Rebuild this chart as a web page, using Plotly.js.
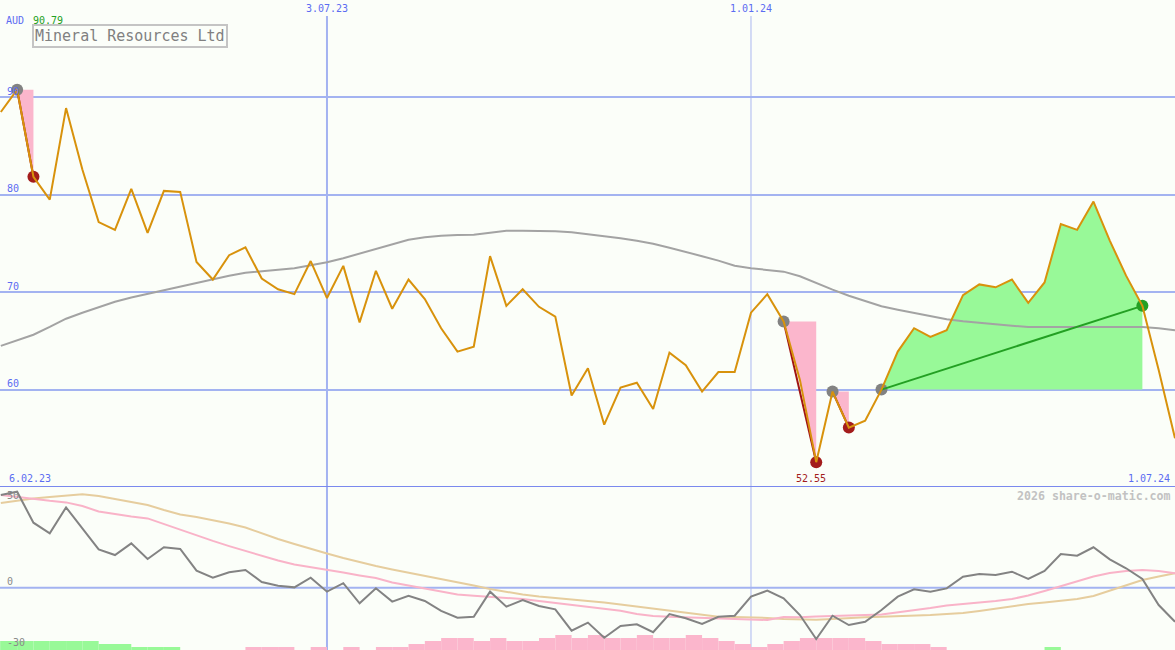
<!DOCTYPE html>
<html>
<head>
<meta charset="utf-8">
<script src="https://cdn.plot.ly/plotly-3.0.1.min.js"></script>
<style>
html,body{margin:0;padding:0;background:#fbfef9;}
#chart{width:1175px;height:650px;}
</style>
</head>
<body>
<div id="chart"></div>
<script>
// ---------- data ----------
const weeks = [
'2023-02-06','2023-02-13','2023-02-20','2023-02-27','2023-03-06','2023-03-13','2023-03-20','2023-03-27',
'2023-04-03','2023-04-10','2023-04-17','2023-04-24','2023-05-01','2023-05-08','2023-05-15','2023-05-22',
'2023-05-29','2023-06-05','2023-06-12','2023-06-19','2023-06-26','2023-07-03','2023-07-10','2023-07-17',
'2023-07-24','2023-07-31','2023-08-07','2023-08-14','2023-08-21','2023-08-28','2023-09-04','2023-09-11',
'2023-09-18','2023-09-25','2023-10-02','2023-10-09','2023-10-16','2023-10-23','2023-10-30','2023-11-06',
'2023-11-13','2023-11-20','2023-11-27','2023-12-04','2023-12-11','2023-12-18','2023-12-25','2024-01-01',
'2024-01-08','2024-01-15','2024-01-22','2024-01-29','2024-02-05','2024-02-12','2024-02-19','2024-02-26',
'2024-03-04','2024-03-11','2024-03-18','2024-03-25','2024-04-01','2024-04-08','2024-04-15','2024-04-22',
'2024-04-29','2024-05-06','2024-05-13','2024-05-20','2024-05-27','2024-06-03','2024-06-10','2024-06-17',
'2024-06-24','2024-07-01'];

const price = [null,
88.5,90.79,81.85,79.5,88.9,82.6,77.2,76.4,80.6,76.1,80.4,80.3,73.1,71.3,73.8,74.6,
71.4,70.3,69.8,73.2,69.4,72.7,66.9,72.2,68.3,71.3,69.3,66.3,63.9,64.4,73.7,68.6,
70.3,68.5,67.5,59.4,62.2,56.4,60.2,60.7,58.0,63.8,62.5,59.8,61.8,61.8,67.9,69.8,
67.0,61.0,52.55,59.8,56.1,56.8,60.0,63.9,66.3,65.4,66.1,69.7,70.8,70.5,71.3,68.9,
71.0,77.0,76.4,79.3,75.3,71.7,68.6,62.0,55.0];

const movingAvg = [null,
64.49,65.07,65.63,66.43,67.28,67.89,68.46,69.02,69.46,69.84,70.20,70.57,70.92,71.33,71.69,72.00,
72.16,72.31,72.46,72.77,73.08,73.49,73.95,74.42,74.88,75.39,75.65,75.80,75.86,75.91,76.11,76.30,
76.30,76.30,76.27,76.16,75.96,75.80,75.55,75.29,74.98,74.57,74.16,73.70,73.24,72.72,72.46,72.26,
72.11,71.64,70.92,70.26,69.64,69.07,68.56,68.20,67.89,67.53,67.22,67.02,66.84,66.71,66.56,66.43,
66.43,66.43,66.43,66.43,66.43,66.43,66.43,66.30,66.10];

const oscillator = [null,
53.9,55.8,37.8,31.6,46.7,34.5,22.3,19.0,25.8,16.7,23.5,22.5,9.9,5.8,9.0,10.3,
3.3,1.2,0.2,5.8,-2.3,2.6,-9.1,-0.3,-8.1,-4.7,-7.7,-13.5,-17.4,-16.9,-2.3,-11.0,
-7.2,-10.6,-12.6,-25.0,-20.3,-29.1,-22.3,-21.3,-25.9,-15.3,-17.8,-21.1,-16.9,-16.3,-5.2,-1.7,
-6.2,-15.9,-29.8,-16.3,-21.7,-19.8,-13.0,-5.2,-0.9,-2.3,-0.4,6.4,8.0,7.4,9.3,5.1,
9.7,19.6,18.6,23.5,16.5,11.3,5.1,-10.1,-19.8];

const signalFast = [null,
53.9,52.7,51.6,50.5,49.6,47.5,44.3,42.8,41.4,40.3,37.0,33.5,30.1,27.2,24.2,21.3,
18.4,15.8,13.5,12.0,10.6,8.8,7.1,5.6,3.0,1.3,-0.5,-2.2,-4.0,-4.7,-5.2,-5.8,
-6.6,-7.7,-8.9,-10.2,-11.2,-12.4,-13.4,-15.3,-16.5,-16.9,-17.2,-17.6,-17.9,-18.2,-18.6,-18.8,
-17.0,-17.2,-16.7,-16.3,-16.2,-15.9,-15.6,-14.4,-13.0,-11.8,-10.3,-9.5,-8.6,-7.7,-6.6,-4.5,
-1.9,1.0,3.9,6.5,8.5,9.7,10.3,9.7,8.4];

const signalSlow = [null,
49.2,50.7,51.9,52.7,53.6,54.3,53.3,51.6,50.1,48.1,45.2,42.6,41.1,39.4,37.3,35.0,
31.5,28.3,25.4,22.5,19.9,17.3,14.9,12.6,10.6,8.8,7.1,5.3,3.3,1.3,-0.8,-2.5,
-4.0,-5.1,-6.0,-6.9,-7.4,-8.6,-9.8,-11.0,-12.1,-13.5,-14.5,-15.6,-16.9,-17.0,-17.2,-17.6,
-18.2,-18.6,-18.6,-18.2,-17.6,-17.2,-16.9,-16.6,-16.5,-15.9,-15.3,-14.7,-13.5,-12.1,-10.6,-9.5,
-8.6,-7.7,-6.6,-4.8,-1.6,1.6,4.5,6.5,8.4];

// positive = buy strength (green), negative = sell strength (pink)
const signalLevel = [3,
3,3,3,3,3,3,2,2,1,1,1,0,0,0,0,-1,
-1,-1,0,-1,0,-1,0,-1,-1,-2,-3,-4,-4,-3,-4,-3,
-3,-4,-5,-4,-5,-4,-4,-5,-4,-4,-5,-4,-3,-2,-1,-2,
-3,-4,-4,-4,-4,-3,-2,-2,-2,-1,0,0,0,0,0,0,
1,0,0,0,0,0,0,0,0];

const drops = [['2023-02-20','2023-02-27'],['2024-01-15','2024-01-29'],['2024-02-05','2024-02-12']];
const rises = [['2024-02-26','2024-06-17']];

const priceTicks = [60,70,80,90];
const oscTicks = [50,0,-30];
const dateLabels = ['2023-07-03','2024-01-01'];
const dateLabelText = ['3.07.23','1.01.24'];
const companyName = 'Mineral Resources Ltd';
const currency = 'AUD';
const highText = '90.79';
const lowText = '52.55';
const lowDate = '2024-01-29';
const firstDateText = '6.02.23';
const lastDateText = '1.07.24';
const credit = '2026 share-o-matic.com';

// ---------- styles ----------
const BG = '#fbfef9';
const GRID = '#a3b3f1';
const BLUE_TXT = '#5b6cf2';
const MONO = 'DejaVu Sans Mono, monospace';
const PINK = '#fbb6cc';
const LGREEN = '#98f998';

const idx = d => weeks.indexOf(d);
const traces = [];

// pink drop areas
drops.forEach(([a,b]) => {
  const s = idx(a), e = idx(b);
  const xs = [weeks[s], weeks[e]], ys = [price[s], price[s]];
  for (let j = e; j >= s; j--) { xs.push(weeks[j]); ys.push(price[j]); }
  traces.push({x: xs, y: ys, type:'scatter', mode:'lines', fill:'toself', fillcolor: PINK,
    line:{width:0}, hoverinfo:'skip', xaxis:'x', yaxis:'y'});
});
// green rise areas
rises.forEach(([a,b]) => {
  const s = idx(a), e = idx(b);
  const xs = [], ys = [];
  for (let j = s; j <= e; j++) { xs.push(weeks[j]); ys.push(price[j]); }
  xs.push(weeks[e]); ys.push(price[s]);
  traces.push({x: xs, y: ys, type:'scatter', mode:'lines', fill:'toself', fillcolor: LGREEN,
    line:{width:0}, hoverinfo:'skip', xaxis:'x', yaxis:'y'});
});

// moving average
traces.push({x: weeks, y: movingAvg, type:'scatter', mode:'lines',
  line:{color:'#a3a3a3', width:2}, xaxis:'x', yaxis:'y'});

// markers
const peakX = [], peakY = [], lowX = [], lowY = [];
drops.forEach(([a,b]) => { peakX.push(a); peakY.push(price[idx(a)]); lowX.push(b); lowY.push(price[idx(b)]); });
const riseStartX = rises.map(r => r[0]), riseStartY = rises.map(r => price[idx(r[0])]);
const riseEndX = rises.map(r => r[1]), riseEndY = rises.map(r => price[idx(r[1])]);

// trend lines
drops.forEach(([a,b]) => {
  traces.push({x:[a,b], y:[price[idx(a)], price[idx(b)]], type:'scatter', mode:'lines',
    line:{color:'#a01414', width:2}, xaxis:'x', yaxis:'y'});
});
traces.push({x: peakX.concat(riseStartX), y: peakY.concat(riseStartY), type:'scatter', mode:'markers',
  marker:{color:'#828282', size:12}, xaxis:'x', yaxis:'y'});
traces.push({x: lowX, y: lowY, type:'scatter', mode:'markers',
  marker:{color:'#a31c1c', size:12}, xaxis:'x', yaxis:'y'});
rises.forEach(([a,b]) => {
  traces.push({x:[a,b], y:[price[idx(a)], price[idx(b)]], type:'scatter', mode:'lines',
    line:{color:'#23a023', width:2}, xaxis:'x', yaxis:'y'});
});
traces.push({x: riseEndX, y: riseEndY, type:'scatter', mode:'markers',
  marker:{color:'#24a024', size:12}, xaxis:'x', yaxis:'y'});

// price line
traces.push({x: weeks, y: price, type:'scatter', mode:'lines',
  line:{color:'#d8920c', width:2}, xaxis:'x', yaxis:'y'});

// lower panel bars
const buyLvl = signalLevel.map(v => v > 0 ? v : 0);
const sellLvl = signalLevel.map(v => v < 0 ? -v : 0);
const WEEK = 7*24*3600*1000;
traces.push({x: weeks, y: buyLvl, type:'bar', marker:{color:LGREEN, line:{width:0}},
  width: WEEK, offset: 0, xaxis:'x', yaxis:'y2'});
traces.push({x: weeks, y: sellLvl, type:'bar', marker:{color:PINK, line:{width:0}},
  width: WEEK, offset: 0, xaxis:'x', yaxis:'y2'});

// lower panel lines
traces.push({x: weeks, y: signalSlow, type:'scatter', mode:'lines', line:{color:'#e6cd9e', width:2}, xaxis:'x', yaxis:'y3'});
traces.push({x: weeks, y: signalFast, type:'scatter', mode:'lines', line:{color:'#f9b3c8', width:2}, xaxis:'x', yaxis:'y3'});
traces.push({x: weeks, y: oscillator, type:'scatter', mode:'lines', line:{color:'#838383', width:2}, xaxis:'x', yaxis:'y3'});

// ---------- layout ----------
const W = 1175, H = 650;
const splitPaper = 163/650;
const px = v => v / W, py = v => 1 - v / H;

const annotations = [];
priceTicks.forEach(t => annotations.push({text: String(t), xref:'paper', x:0, xanchor:'left', xshift:5,
  yref:'y', y:t, yanchor:'middle', yshift:6, showarrow:false, font:{family:MONO, size:10, color:BLUE_TXT}}));
oscTicks.forEach(t => annotations.push({text: String(t), xref:'paper', x:0, xanchor:'left', xshift:5,
  yref:'y3', y:t, yanchor:'middle', yshift: t < 0 ? -3 : 6, showarrow:false, font:{family:MONO, size:10, color:'#8a8a8a'}}));
dateLabels.forEach((d,k) => annotations.push({text: dateLabelText[k], xref:'x', x:d, xanchor:'center',
  yref:'paper', y:py(9), yanchor:'middle', showarrow:false, font:{family:MONO, size:10, color:BLUE_TXT}}));
annotations.push({text: currency, xref:'paper', x:px(4), xanchor:'left', yref:'paper', y:py(20), yanchor:'middle',
  showarrow:false, font:{family:MONO, size:10, color:BLUE_TXT}});
annotations.push({text: highText, xref:'paper', x:px(31), xanchor:'left', yref:'paper', y:py(20), yanchor:'middle',
  showarrow:false, font:{family:MONO, size:10, color:'#22a022'}});
annotations.push({text: companyName, xref:'paper', x:px(32), xanchor:'left', yref:'paper', y:py(24), yanchor:'top',
  showarrow:false, bordercolor:'#c4c4c4', borderwidth:2, borderpad:1, bgcolor:BG,
  font:{family:MONO, size:15, color:'#808080'}});
annotations.push({text: firstDateText, xref:'paper', x:px(7), xanchor:'left', yref:'paper', y:py(478), yanchor:'middle',
  showarrow:false, font:{family:MONO, size:10, color:BLUE_TXT}});
annotations.push({text: lastDateText, xref:'paper', x:px(1172), xanchor:'right', yref:'paper', y:py(478), yanchor:'middle',
  showarrow:false, font:{family:MONO, size:10, color:BLUE_TXT}});
annotations.push({text: lowText, xref:'x', x:lowDate, xanchor:'center', xshift:-5, yref:'paper', y:py(478), yanchor:'middle',
  showarrow:false, font:{family:MONO, size:10, color:'#a31c1c'}});
annotations.push({text: '<b>'+credit+'</b>', xref:'paper', x:px(1173), xanchor:'right', yref:'paper', y:py(496), yanchor:'middle',
  showarrow:false, font:{family:MONO, size:11.6, color:'#c2c2c2'}});

const shapes = [
  {type:'line', xref:'x', x0:dateLabels[0], x1:dateLabels[0], yref:'paper', y0:0, y1:py(16), layer:'below', line:{color:GRID, width:2}},
  {type:'line', xref:'x', x0:dateLabels[1], x1:dateLabels[1], yref:'paper', y0:0, y1:py(16), layer:'below', line:{color:'#aab8f0', width:1}},
  {type:'line', xref:'paper', x0:0, x1:1, yref:'y3', y0:0, y1:0, layer:'below', line:{color:GRID, width:2}},
  {type:'line', xref:'paper', x0:0, x1:1, yref:'y', y0:50, y1:50, layer:'above', line:{color:'#7a89ee', width:2}}
];

const layout = {
  width: W, height: H,
  margin:{l:0, r:0, t:0, b:0, pad:0},
  paper_bgcolor: BG, plot_bgcolor: BG,
  showlegend:false, barmode:'overlay', hovermode:false,
  xaxis:{type:'date', range:['2023-02-12 15:30','2024-07-01'], showgrid:false, zeroline:false,
    showticklabels:false, ticks:'', showline:false, fixedrange:true},
  yaxis:{domain:[splitPaper, 1], range:[50,100], tickvals:priceTicks, showgrid:true, gridcolor:GRID, gridwidth:2,
    zeroline:false, showticklabels:false, ticks:'', showline:false},
  yaxis2:{domain:[0, splitPaper], range:[0, 163/3], showgrid:false, zeroline:false, showticklabels:false, ticks:'', showline:false},
  yaxis3:{overlaying:'y2', range:[-36.22, 58.55], showgrid:false, zeroline:false, showticklabels:false, ticks:'', showline:false},
  annotations, shapes
};

Plotly.newPlot('chart', traces, layout, {displayModeBar:false, staticPlot:true});
</script>
</body>
</html>
